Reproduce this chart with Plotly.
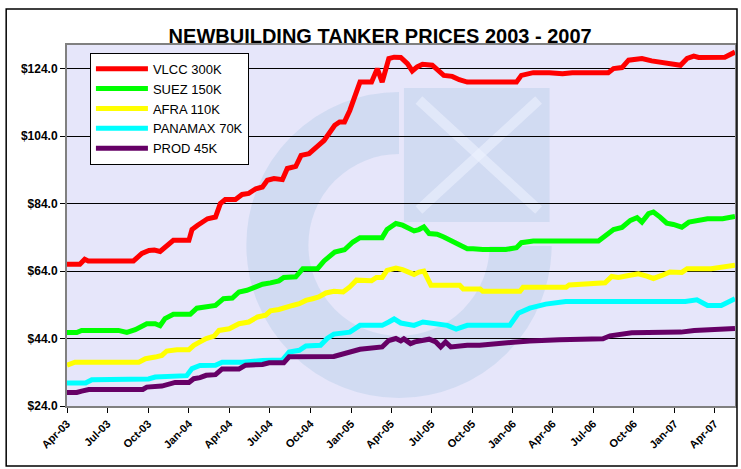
import plotly.graph_objects as go

# ---------------- data ----------------
vlcc_dates = ["2003-04-01","2003-04-30","2003-05-11","2003-05-19","2003-08-29","2003-09-17","2003-10-03","2003-10-15",
              "2003-10-28","2003-11-12","2003-11-27","2004-01-01","2004-01-08","2004-01-20","2004-02-01","2004-02-12",
              "2004-03-01","2004-03-12","2004-03-23","2004-04-15","2004-04-30","2004-05-15","2004-05-31","2004-06-15",
              "2004-06-26","2004-07-11","2004-07-30","2004-08-10","2004-08-29","2004-09-10","2004-09-28","2004-10-09",
              "2004-10-20","2004-11-01","2004-11-12","2004-11-25","2004-12-06","2004-12-17","2004-12-29","2005-01-09",
              "2005-01-21","2005-02-16","2005-03-01","2005-03-12","2005-03-27","2005-04-08","2005-04-23","2005-05-08",
              "2005-05-19","2005-05-30","2005-06-11","2005-07-03","2005-07-18","2005-07-29","2005-08-17","2005-09-02",
              "2005-09-20","2006-01-09","2006-01-20","2006-02-16","2006-03-24","2006-04-23","2006-05-15","2006-08-04",
              "2006-08-16","2006-09-04","2006-09-19","2006-10-19","2006-11-10","2006-12-07","2006-12-25","2007-01-14",
              "2007-01-29","2007-02-13","2007-02-24","2007-04-24","2007-05-17"]
vlcc_vals = [66.0,66.0,67.5,67.0,67.0,69.2,70.1,70.2,
             69.8,71.6,73.1,73.1,76.3,77.5,78.6,79.5,
             80.0,84.0,85.2,85.2,86.7,87.0,88.4,88.9,
             90.9,91.4,91.1,94.4,95.0,98.3,98.8,100.3,
             101.3,102.7,104.5,107.2,108.2,108.2,111.6,115.6,
             120.0,120.0,124.0,120.0,127.0,127.4,127.3,125.5,
             123.3,124.5,125.3,125.0,123.5,122.0,121.7,120.7,
             120.0,120.0,122.0,122.8,122.8,122.5,122.8,122.8,
             124.0,124.3,126.5,127.0,126.3,125.8,125.2,125.0,
             127.0,127.7,127.3,127.4,128.9]

suez_dates = ["2003-04-01","2003-04-23","2003-05-04","2003-07-26","2003-08-14","2003-09-02","2003-09-28","2003-10-17",
              "2003-10-28","2003-11-08","2003-11-27","2004-01-04","2004-01-19","2004-02-12","2004-03-01","2004-03-19",
              "2004-04-08","2004-04-23","2004-05-11","2004-05-31","2004-06-15","2004-07-03","2004-07-22","2004-08-02",
              "2004-08-29","2004-09-14","2004-10-17","2004-11-01","2004-11-25","2004-12-17","2005-01-05","2005-01-21",
              "2005-03-12","2005-03-23","2005-04-12","2005-04-27","2005-05-12","2005-05-23","2005-06-03","2005-06-14",
              "2005-06-26","2005-07-14","2005-07-29","2005-08-21","2005-09-06","2005-09-20","2005-10-03","2005-10-25",
              "2005-12-16","2006-01-09","2006-01-20","2006-02-16","2006-07-13","2006-07-28","2006-08-16","2006-09-04",
              "2006-09-23","2006-10-08","2006-10-19","2006-11-03","2006-11-14","2006-11-29","2006-12-14","2006-12-29",
              "2007-01-17","2007-02-02","2007-02-24","2007-03-16","2007-04-19","2007-05-17"]
suez_vals = [45.8,45.8,46.4,46.4,45.8,46.6,48.4,48.4,
             47.8,49.9,51.2,51.2,53.0,53.3,53.8,55.8,
             56.0,57.8,58.3,59.3,60.1,60.5,61.1,62.1,
             62.3,64.7,64.7,67.0,69.6,70.3,72.6,73.9,
             73.9,76.3,78.1,77.6,76.6,75.9,76.3,77.1,
             75.1,74.9,74.1,72.6,71.6,70.6,70.6,70.4,
             70.4,70.9,72.4,72.9,72.9,74.6,76.3,76.9,
             79.0,79.8,78.5,81.0,81.5,80.0,78.2,77.8,
             77.0,78.5,79.0,79.5,79.5,80.2]

afra_dates = ["2003-04-01","2003-04-19","2003-09-10","2003-09-25","2003-10-17","2003-11-01","2003-11-12","2003-12-05",
              "2004-01-01","2004-01-12","2004-01-26","2004-02-09","2004-02-27","2004-03-09","2004-04-01","2004-04-23",
              "2004-05-15","2004-06-04","2004-06-22","2004-07-03","2004-07-22","2004-08-06","2004-08-22","2004-09-06",
              "2004-09-21","2004-10-06","2004-10-20","2004-11-05","2004-11-23","2004-12-14","2004-12-29","2005-01-13",
              "2005-02-16","2005-02-27","2005-03-12","2005-03-23","2005-04-12","2005-04-27","2005-05-12","2005-05-23",
              "2005-06-03","2005-06-14","2005-06-30","2005-09-03","2005-09-11","2005-10-19","2005-10-25","2006-01-17",
              "2006-01-24","2006-05-01","2006-05-08","2006-07-28","2006-08-12","2006-08-27","2006-09-19","2006-10-11",
              "2006-10-30","2006-11-14","2006-12-03","2006-12-21","2007-01-17","2007-01-29","2007-03-24","2007-04-24",
              "2007-05-17"]
afra_vals = [36.1,37.0,37.0,38.0,38.5,39.0,40.3,40.7,
             40.7,42.0,43.0,44.0,44.7,46.4,46.9,48.4,
             48.9,50.4,50.9,52.2,52.6,53.3,53.8,54.3,
             55.3,55.8,56.3,57.5,58.0,57.8,59.3,61.3,
             61.1,62.1,62.1,64.2,64.9,64.4,63.4,63.0,
             63.7,64.0,59.8,59.8,58.7,58.7,58.0,58.0,
             59.2,59.2,59.9,60.5,62.4,62.1,62.7,63.2,
             62.5,61.8,62.7,63.7,63.6,64.7,64.7,65.2,
             65.7]

panamax_dates = ["2003-04-01","2003-05-13","2003-05-27","2003-10-02","2003-10-17","2003-11-24","2003-12-27","2004-01-08",
                 "2004-01-26","2004-03-01","2004-03-16","2004-04-30","2004-06-15","2004-07-30","2004-08-14","2004-09-06",
                 "2004-09-21","2004-10-24","2004-11-08","2004-11-23","2004-12-29","2005-01-21","2005-03-12","2005-03-27",
                 "2005-04-08","2005-04-23","2005-05-23","2005-06-12","2005-07-11","2005-08-06","2005-08-26","2005-09-20",
                 "2005-12-25","2006-01-13","2006-02-08","2006-03-16","2006-04-30","2006-07-13","2007-01-25","2007-02-20",
                 "2007-03-16","2007-04-16","2007-05-17"]
panamax_vals = [30.8,30.8,31.8,32.0,32.6,33.0,33.0,35.1,
                36.0,36.1,37.0,37.0,37.5,37.6,40.0,40.5,
                41.8,42.0,44.0,45.3,45.9,47.9,47.9,48.9,
                49.8,48.6,47.9,48.9,48.4,47.9,46.8,47.9,
                47.9,51.5,53.0,54.2,55.0,55.0,55.0,55.5,
                53.8,53.8,55.8]

prod_dates = ["2003-04-01","2003-04-23","2003-05-04","2003-05-20","2003-09-19","2003-09-28","2003-11-01","2003-11-16",
              "2003-12-01","2004-01-01","2004-01-12","2004-01-26","2004-02-09","2004-03-01","2004-03-16","2004-04-23",
              "2004-05-08","2004-06-15","2004-06-30","2004-08-02","2004-08-14","2004-11-23","2004-12-06","2004-12-29",
              "2005-01-21","2005-03-12","2005-03-27","2005-04-12","2005-04-23","2005-04-30","2005-05-15","2005-05-25",
              "2005-06-11","2005-06-26","2005-07-11","2005-07-22","2005-08-02","2005-08-14","2005-09-20","2005-10-18",
              "2006-01-02","2006-02-08","2006-04-16","2006-07-23","2006-08-08","2006-09-26","2007-01-15","2007-02-14",
              "2007-05-17"]
prod_vals = [28.0,28.0,28.4,28.9,28.9,29.6,29.9,30.6,
             31.0,31.0,32.1,32.4,33.1,33.3,35.0,35.0,
             36.1,36.3,36.8,36.8,38.6,38.7,39.1,40.0,
             40.8,41.5,43.4,44.0,43.3,43.9,42.5,43.0,
             43.5,43.8,43.0,41.5,43.0,41.5,42.0,42.0,
             42.9,43.3,43.6,43.9,44.8,45.7,45.9,46.4,
             47.0]

series_names = ["VLCC 300K", "SUEZ 150K", "AFRA 110K", "PANAMAX 70K", "PROD 45K"]
series_dates = [vlcc_dates, suez_dates, afra_dates, panamax_dates, prod_dates]
series_vals = [vlcc_vals, suez_vals, afra_vals, panamax_vals, prod_vals]
series_colors = ["#FF0000", "#00FF00", "#FFFF00", "#00FFFF", "#660066"]

x_tick_dates = ["2003-04-01","2003-07-01","2003-10-01","2004-01-01","2004-04-01","2004-07-01","2004-10-01",
                "2005-01-01","2005-04-01","2005-07-01","2005-10-01","2006-01-01","2006-04-01","2006-07-01",
                "2006-10-01","2007-01-01","2007-04-01"]
y_ticks = [24.0, 44.0, 64.0, 84.0, 104.0, 124.0]
y_tick_text = ["$%.1f" % v for v in y_ticks]

FONT = "Liberation Sans, Arial, sans-serif"

# plot-area geometry in pixels (used only to place decoration shapes)
PL, PR, PT, PB = 67, 737, 45, 406
def px(x):
    return (x - PL) / (PR - PL)
def py(y):
    return (PB - y) / (PB - PT)

# ---------------- figure ----------------
fig = go.Figure()
for name, xs, ys, col in zip(series_names, series_dates, series_vals, series_colors):
    fig.add_trace(go.Scatter(x=xs, y=ys, mode="lines", name=name,
                             line=dict(color=col, width=5)))

logo = "rgba(165,195,228,0.32)"
bg = "#E6E6FA"
xline = "rgba(238,242,255,0.55)"
shapes = [
    # faint watermark logo (ring + square with X)
    dict(type="circle", xref="paper", yref="paper", layer="below",
         x0=px(400 - 122), x1=px(400 + 122), y0=py(245 + 122), y1=py(245 - 122),
         line=dict(color=logo, width=62), fillcolor="rgba(0,0,0,0)"),
    dict(type="rect", xref="paper", yref="paper", layer="below",
         x0=px(400), x1=px(570), y0=py(246), y1=py(70),
         line=dict(width=0), fillcolor=bg),
    dict(type="rect", xref="paper", yref="paper", layer="below",
         x0=px(405), x1=px(551), y0=py(222), y1=py(88),
         line=dict(width=0), fillcolor=logo),
    dict(type="line", xref="paper", yref="paper", layer="below",
         x0=px(420), x1=px(540), y0=py(100), y1=py(210),
         line=dict(color=xline, width=10)),
    dict(type="line", xref="paper", yref="paper", layer="below",
         x0=px(420), x1=px(540), y0=py(210), y1=py(100),
         line=dict(color=xline, width=10)),
    # outer chart border
    dict(type="rect", xref="paper", yref="paper", layer="above",
         x0=px(6), x1=px(739), y0=py(466), y1=py(9),
         line=dict(color="black", width=1.5), fillcolor="rgba(0,0,0,0)"),
]

fig.update_layout(
    width=741, height=469,
    margin=dict(l=PL, r=741 - PR, t=PT, b=469 - PB),
    paper_bgcolor="white",
    plot_bgcolor=bg,
    font=dict(family=FONT, color="black"),
    title=dict(text="<b>NEWBUILDING TANKER PRICES 2003 - 2007</b>",
               font=dict(size=20, family=FONT, color="black"),
               x=0.513, xanchor="center", y=1 - 35.5 / 469, yanchor="middle",
               xref="container", yref="container"),
    showlegend=True,
    legend=dict(x=px(90), y=py(52.7), xanchor="left", yanchor="top",
                bgcolor="white", bordercolor="black", borderwidth=1,
                font=dict(size=13, family=FONT, color="black"),
                itemwidth=52, tracegroupgap=0),
    xaxis=dict(type="date", range=["2003-04-01", "2007-05-17"],
               tickvals=x_tick_dates, tickformat="%b-%y", tickangle=-45,
               tickfont=dict(size=11, family=FONT, weight="bold", color="black"),
               ticks="outside", ticklen=5, tickcolor="black", tickwidth=1,
               showgrid=False, zeroline=False,
               showline=True, linecolor="#808080", linewidth=2, mirror=True),
    yaxis=dict(range=[24, 131], tickvals=y_ticks, ticktext=y_tick_text,
               tickfont=dict(size=12, family=FONT, weight="bold", color="black"),
               ticks="outside", ticklen=5, tickcolor="black", tickwidth=1,
               showgrid=True, gridcolor="black", gridwidth=1, zeroline=False,
               showline=True, linecolor="#808080", linewidth=2, mirror=True),
    shapes=shapes,
)

fig.write_html("out.html", config={"displayModeBar": False},
               post_script="document.body.style.margin='0';document.body.style.overflow='hidden';")
